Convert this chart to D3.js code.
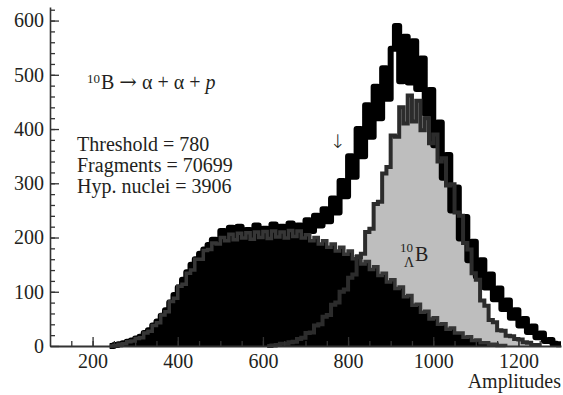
<!DOCTYPE html>
<html><head><meta charset="utf-8">
<script src="https://cdn.jsdelivr.net/npm/d3@7"></script>
<style>
body{margin:0;background:#fff;}
text{font-family:"Liberation Serif","Times New Roman",serif;fill:#231f20;}
</style>
</head><body>
<svg id="chart" width="563" height="395"></svg>
<script>
// ---- data (bin left edges: 100, 110, ..., 1290; bin width 10) ----
const binStart = 100;
const binWidth = 10;

const totalCounts = [
0,0,0,0,0,0,0,0,0,0,0,0,0,0,0,
2,3,5,8,10,14,17,24,29,38,
45,56,66,80,94,108,122,136,150,160,
170,178,186,196,194,212,190,218,194,220,
196,214,190,222,198,216,192,224,200,220,
196,226,204,222,206,232,212,240,222,252,
230,272,246,304,276,350,312,400,350,444,
386,478,420,512,456,548,590,488,570,486,
562,474,530,428,472,370,412,310,352,250,
292,198,238,158,192,128,158,108,132,86,
106,68,84,52,66,38,50,26,36,16,
23,9,11,4,3
];

const backgroundCounts = [
0,0,0,0,0,0,0,0,0,0,0,0,0,0,0,
1,3,4,8,9,14,15,24,27,38,
43,57,63,82,88,110,114,134,140,160,
160,176,178,190,188,200,194,206,196,208,
199,209,197,210,200,211,198,212,201,210,
199,213,202,212,199,205,194,200,188,194,
182,188,175,182,169,175,161,166,151,156,
141,146,130,134,118,122,106,109,91,93,
75,77,62,64,50,52,40,41,31,33,
24,24,16,17,10,11,6,6,3,3,
1,1,0,0,0,0,0,0,0,0,
0,0,0,0,0
];

const hypernucleiCounts = [
0,0,0,0,0,0,0,0,0,0,0,0,0,0,0,0,0,0,0,0,0,0,0,0,0,0,
0,0,0,0,0,0,0,0,0,0,0,0,0,0,0,0,0,0,0,0,0,0,0,0,0,0,
1,2,4,4,7,8,13,15,24,25,
38,40,54,57,76,80,100,104,126,132,
164,170,210,216,262,266,318,330,388,386,
440,410,462,414,452,398,420,374,390,340,
346,296,298,246,240,190,178,134,122,84,
74,48,44,29,28,19,18,13,12,7,
6,2,2,0,0,0,0,0
];

const xMajorTicks = [200, 400, 600, 800, 1000, 1200];
const yMajorTicks = [0, 100, 200, 300, 400, 500, 600];
const infoLines = ["Threshold = 780", "Fragments = 70699", "Hyp. nuclei = 3906"];

// ---- scales ----
const svg = d3.select("#chart");
const x = d3.scaleLinear().domain([100, 1300]).range([50, 561]);
const y = d3.scaleLinear().domain([0, 625]).range([346, 7]);

function toBins(counts) {
  const pts = counts.map((c, i) => ({v: binStart + i * binWidth, c}));
  pts.push({v: binStart + counts.length * binWidth, c: counts[counts.length - 1]});
  return pts;
}
const total = toBins(totalCounts);
const bg = toBins(backgroundCounts);
const hyp = toBins(hypernucleiCounts);

const area = d3.area().curve(d3.curveStepAfter)
  .x(d => x(d.v)).y0(y(0)).y1(d => y(d.c));

function lineFor(data) {
  const keep = data.map((d, i) => d.c > 0 || (data[i + 1] && data[i + 1].c > 0) || (data[i - 1] && data[i - 1].c > 0));
  return d3.line().curve(d3.curveStepAfter)
    .defined((d, i) => keep[i])
    .x(d => x(d.v)).y(d => y(d.c))(data);
}

const plot = svg.append("g");
plot.append("path").attr("d", area(hyp)).attr("fill", "#bebebe");
plot.append("path").attr("d", area(bg)).attr("fill", "#000");
plot.append("path").attr("d", lineFor(total)).attr("fill", "none")
  .attr("stroke", "#000").attr("stroke-width", 6).attr("stroke-linejoin", "round");
plot.append("path").attr("d", lineFor(bg)).attr("fill", "none")
  .attr("stroke", "#363636").attr("stroke-width", 3.5);
plot.append("path").attr("d", lineFor(hyp)).attr("fill", "none")
  .attr("stroke", "#2c2c2c").attr("stroke-width", 4);

// ---- axes ----
const axisColor = "#333";
const xMinor = d3.range(150, 1300, 50);
const yMinor = d3.range(20, 625, 20);

const gxMinor = svg.append("g").attr("transform", `translate(0,${y(0)})`)
  .call(d3.axisBottom(x).tickValues(xMinor).tickSizeInner(-5).tickSizeOuter(0).tickFormat(""));
gxMinor.select(".domain").remove();
const gx = svg.append("g").attr("transform", `translate(0,${y(0)})`)
  .call(d3.axisBottom(x).tickValues(xMajorTicks).tickSizeInner(-9).tickSizeOuter(0)
    .tickPadding(8).tickFormat(d3.format("d")));

const gyMinor = svg.append("g").attr("transform", `translate(${x(100)},0)`)
  .call(d3.axisLeft(y).tickValues(yMinor).tickSizeInner(-5).tickSizeOuter(0).tickFormat(""));
gyMinor.select(".domain").remove();
const gy = svg.append("g").attr("transform", `translate(${x(100)},0)`)
  .call(d3.axisLeft(y).tickValues(yMajorTicks).tickSizeInner(-9).tickSizeOuter(0)
    .tickPadding(6).tickFormat(d3.format("d")));

svg.selectAll(".tick line").attr("stroke", axisColor).attr("stroke-width", 1.3);
gx.select(".domain").attr("stroke", axisColor).attr("stroke-width", 2.2);
gy.select(".domain").attr("stroke", axisColor).attr("stroke-width", 1.6);
svg.selectAll(".tick text").style("font-family", '"Liberation Serif", serif')
  .style("font-size", "20px").attr("fill", "#231f20");

svg.append("text").attr("x", 561).attr("y", 388).attr("text-anchor", "end")
  .style("font-size", "20px").text("Amplitudes");

// ---- annotations ----
svg.append("text").attr("x", 87).attr("y", 83).style("font-size", "13px").text("10");
const eq = svg.append("text").attr("x", 101).attr("y", 89).style("font-size", "20px");
eq.append("tspan").text("B ");
eq.append("tspan").style("font-family", '"DejaVu Serif", serif').style("font-size", "21px")
  .style("font-weight", "200").text("\u2192");
eq.append("tspan").text(" \u03b1 + \u03b1 + ");
eq.append("tspan").style("font-style", "italic").text("p");

infoLines.forEach((t, i) => {
  svg.append("text").attr("x", 77).attr("y", 151 + i * 21.2).style("font-size", "20px").text(t);
});

svg.append("text").attr("x", 338).attr("y", 148).attr("text-anchor", "middle")
  .style("font-family", '"DejaVu Sans ExtraLight","DejaVu Sans", sans-serif').style("font-weight", "200")
  .style("font-size", "19px").text("\u2193\uFE0E");

svg.append("text").attr("x", 400).attr("y", 252).style("font-size", "13px").text("10");
svg.append("text").attr("x", 404).attr("y", 267).style("font-size", "14px").text("\u039b");
svg.append("text").attr("x", 415).attr("y", 261).style("font-size", "20px").text("B");
</script>
</body></html>
